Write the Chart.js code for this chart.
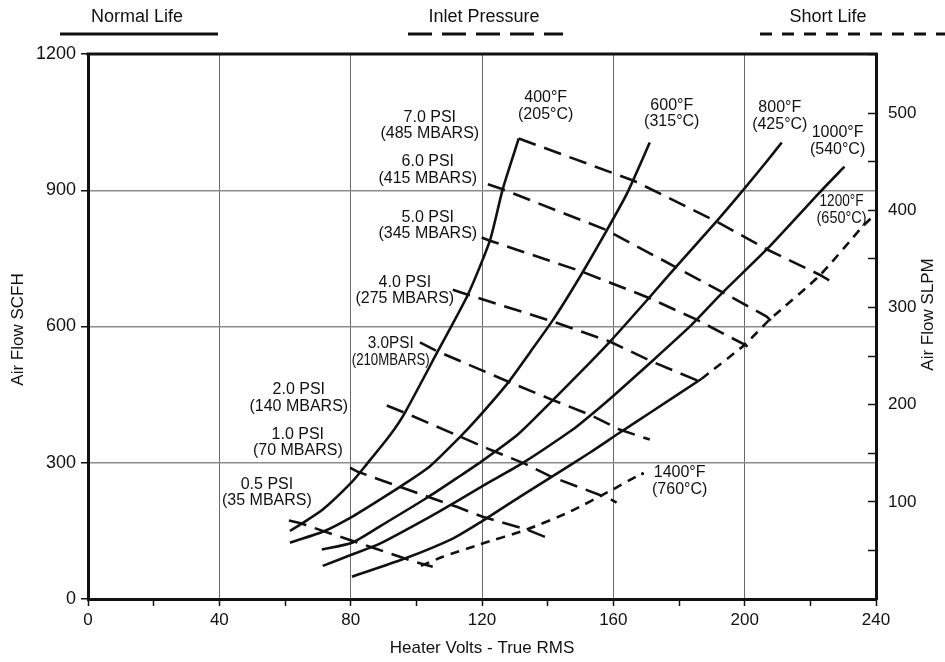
<!DOCTYPE html>
<html>
<head>
<meta charset="utf-8">
<title>Air Flow vs Heater Volts</title>
<script src="https://cdn.jsdelivr.net/npm/chart.js@4.4.1/dist/chart.umd.min.js"></script>
<style>
  html, body { margin: 0; padding: 0; background: #fff; }
  #wrap { width: 945px; height: 662px; position: relative; }
</style>
</head>
<body>
<div id="wrap"><canvas id="airflow"></canvas></div>
<script>
// temperature curves, [heater volts, air flow SCFH]
var f400 = [[61.5,150],[65.1,166],[71.5,197],[80.4,258],[84.9,297],[91.9,360],[96.5,410],[106.5,545],[115.7,670],[122.4,789],[126.3,902],[131.2,1014]];
var f600 = [[61.5,124],[71.5,148],[80.4,181],[88.9,219],[95,247],[104.1,292],[113.2,356],[118.4,396],[127.9,476],[134.6,543],[141.6,614],[146.7,672],[150.7,720],[157.7,808],[164.1,892],[171.1,1005]];
var f800 = [[71.2,109],[80.4,124],[88.9,160],[103.5,224],[112.3,266],[119.9,303],[130.9,362],[141.2,435],[152.8,520],[158.9,566],[170.5,660],[179.3,733],[191.5,832],[199.4,899],[207,966],[211.3,1005]];
var f1000 = [[71.5,73],[80.4,98],[88.9,122],[104.1,181],[113.2,219],[120.9,252],[132.1,298],[148.2,376],[152.8,403],[159.8,446],[171.7,523],[183.9,604],[193.3,675],[207,772],[222.8,895],[230.4,952]];
var f1200 = [[80.4,49],[96.5,89],[111.1,133],[119.3,168],[131.5,225],[141.2,269],[152.8,322],[161.9,366],[172,414],[186.9,485]];
var f1200short = [[186.9,485],[200,560],[207.6,615],[222.8,712],[235.9,820],[238.7,840]];
var f1400short = [[101.4,73],[108.1,93],[119.3,120],[133.6,153],[146.7,192],[159.8,241],[168,274]];

// inlet pressure lines, [heater volts, air flow SCFH]
var psi70 = [[131.2,1014],[166.2,921],[191.5,831],[207,769],[222.8,714],[226.8,697]];
var psi60 = [[121.8,913],[126.3,902],[157.7,813],[178.7,732],[193.3,675],[206.7,622],[208.2,611]];
var psi50 = [[119.9,796],[122.4,789],[150.4,721],[170.5,664],[185.4,615],[200,560],[201.2,554]];
var psi40 = [[111.1,681],[115.7,670],[141.6,611],[158.9,567],[171.7,523],[186.3,479]];
var psi30 = [[101.1,565],[106.5,545],[127.9,479],[141.2,439],[152.8,406],[161.9,373],[171.1,351]];
var psi20 = [[91,426],[96.5,410],[113.2,358],[122.4,329],[133,298],[141.2,269],[158.9,221],[161,212]];
var psi10 = [[79.8,289],[82.2,280],[95,247],[103.5,225],[112.3,203],[120.2,181],[133.6,153],[141.2,131]];
var psi05 = [[61.2,173],[65.1,166],[71.5,150],[81.3,126],[86.8,113],[96.5,89],[101.4,78],[105,71]];

// axes
var voltTicks = [0, 40, 80, 120, 160, 200, 240];
var scfhTicks = [0, 300, 600, 900, 1200];
var slpmTicks = [100, 200, 300, 400, 500];
var slpmTop = 561; // SLPM value at 1200 SCFH

var FONT = '"Liberation Sans", Arial, Helvetica, sans-serif';
var INK = '#111';
var LONG = [18, 9];
var SHORT = [9, 7];

function series(label, pts, dash, bend) {
    return {
        label: label,
        data: pts.map(function (p) { return { x: p[0], y: p[1] }; }),
        borderColor: INK,
        borderWidth: 2.6,
        borderDash: dash,
        pointRadius: 0,
        showLine: true,
        fill: false,
        tension: bend
    };
}

// text placed on the plot, anchored in data units
var notes = [
    { text: ['7.0 PSI', '(485 MBARS)'], at: [104.1, 1060] },
    { text: ['6.0 PSI', '(415 MBARS)'], at: [103.5, 963] },
    { text: ['5.0 PSI', '(345 MBARS)'], at: [103.5, 840] },
    { text: ['4.0 PSI', '(275 MBARS)'], at: [96.5, 697] },
    { text: ['3.0PSI', '(210MBARS)'], at: [92.2, 562], w: [46, 78] },
    { text: ['2.0 PSI', '(140 MBARS)'], at: [64.2, 461] },
    { text: ['1.0 PSI', '(70 MBARS)'], at: [63.9, 362] },
    { text: ['0.5 PSI', '(35 MBARS)'], at: [54.5, 252] },
    { text: ['400°F', '(205°C)'], at: [139.4, 1104] },
    { text: ['600°F', '(315°C)'], at: [177.8, 1087] },
    { text: ['800°F', '(425°C)'], at: [210.7, 1081] },
    { text: ['1000°F', '(540°C)'], at: [228.3, 1026] },
    { text: ['1200°F', '(650°C)'], at: [229.5, 875], w: [44, 50] },
    { text: ['1400°F', '(760°C)'], at: [180.2, 278] }
];
var leaderDot = [168.9, 276];

var legendItems = [
    { text: 'Normal Life', cx: 137, from: 60, to: 218, dash: [] },
    { text: 'Inlet Pressure', cx: 484, from: 408, to: 563, dash: [24, 10] },
    { text: 'Short Life', cx: 828, from: 760, to: 945, dash: [12, 10] }
];

var decor = {
    id: 'decor',
    afterDraw: function (chart) {
        var ctx = chart.ctx, a = chart.chartArea;
        var sx = chart.scales.x, sy = chart.scales.y;
        ctx.save();

        // top frame line
        ctx.strokeStyle = INK;
        ctx.lineWidth = 3;
        ctx.beginPath();
        ctx.moveTo(a.left - 1.5, a.top);
        ctx.lineTo(a.right + 1.5, a.top);
        ctx.stroke();

        // notes
        ctx.fillStyle = INK;
        ctx.font = '16px ' + FONT;
        ctx.textAlign = 'center';
        ctx.textBaseline = 'middle';
        notes.forEach(function (n) {
            var px = sx.getPixelForValue(n.at[0]);
            var py = sy.getPixelForValue(n.at[1]);
            n.text.forEach(function (t, i) {
                if (n.w) ctx.fillText(t, px, py + i * 16.5, n.w[i]);
                else ctx.fillText(t, px, py + i * 16.5);
            });
        });
        ctx.beginPath();
        ctx.arc(sx.getPixelForValue(leaderDot[0]), sy.getPixelForValue(leaderDot[1]), 1.6, 0, Math.PI * 2);
        ctx.fill();

        // legend across the top
        ctx.font = '18px ' + FONT;
        legendItems.forEach(function (it) {
            ctx.fillText(it.text, it.cx, 17);
            ctx.setLineDash(it.dash);
            ctx.lineWidth = 3;
            ctx.beginPath();
            ctx.moveTo(it.from, 34);
            ctx.lineTo(it.to, 34);
            ctx.stroke();
        });
        ctx.setLineDash([]);

        // axis titles
        ctx.font = '17px ' + FONT;
        ctx.fillText('Heater Volts - True RMS', (a.left + a.right) / 2, 648);
        ctx.save();
        ctx.translate(18, (a.top + a.bottom) / 2 + 3);
        ctx.rotate(-Math.PI / 2);
        ctx.fillText('Air Flow SCFH', 0, 0);
        ctx.restore();
        ctx.save();
        ctx.translate(928, (a.top + a.bottom) / 2 - 12);
        ctx.rotate(-Math.PI / 2);
        ctx.fillText('Air Flow SLPM', 0, 0);
        ctx.restore();

        ctx.restore();
    }
};

var ctx = document.getElementById('airflow').getContext('2d');
var chart = new Chart(ctx, {
    type: 'scatter',
    data: {
        datasets: [
            series('400°F', f400, [], 0.2),
            series('600°F', f600, [], 0.2),
            series('800°F', f800, [], 0.2),
            series('1000°F', f1000, [], 0.2),
            series('1200°F', f1200, [], 0.2),
            series('1200°F short life', f1200short, SHORT, 0.2),
            series('1400°F short life', f1400short, SHORT, 0.2),
            series('7.0 PSI', psi70, LONG, 0),
            series('6.0 PSI', psi60, LONG, 0),
            series('5.0 PSI', psi50, LONG, 0),
            series('4.0 PSI', psi40, LONG, 0),
            series('3.0 PSI', psi30, LONG, 0),
            series('2.0 PSI', psi20, LONG, 0),
            series('1.0 PSI', psi10, LONG, 0),
            series('0.5 PSI', psi05, LONG, 0)
        ]
    },
    options: {
        responsive: true,
        maintainAspectRatio: false,
        animation: false,
        layout: { padding: { top: 54, left: 0, right: 0, bottom: 0 } },
        plugins: { legend: { display: false }, tooltip: { enabled: false } },
        scales: {
            x: {
                type: 'linear',
                position: 'bottom',
                min: 0, max: 240,
                afterFit: function (s) { s.height = 63; },
                ticks: {
                    stepSize: 20,
                    autoSkip: false,
                    maxRotation: 0,
                    color: INK,
                    padding: 4,
                    font: { family: FONT, size: 17 },
                    callback: function (v) { return voltTicks.indexOf(v) >= 0 ? v : ''; }
                },
                grid: {
                    color: function (c) {
                        var v = c.tick && c.tick.value;
                        return (voltTicks.indexOf(v) > 0 && v < 240) ? '#6a6a6a' : 'rgba(0,0,0,0)';
                    },
                    lineWidth: 1,
                    tickColor: INK,
                    tickLength: 7,
                    tickWidth: 1.5
                },
                border: { color: INK, width: 3 }
            },
            y: {
                type: 'linear',
                position: 'left',
                min: 0, max: 1200,
                afterFit: function (s) { s.width = 88; },
                ticks: {
                    stepSize: 300,
                    color: INK,
                    padding: 5,
                    font: { family: FONT, size: 18 },
                    callback: function (v) { return scfhTicks.indexOf(v) >= 0 ? v : ''; }
                },
                grid: {
                    color: function (c) {
                        var v = c.tick && c.tick.value;
                        return (v > 0 && v < 1200) ? '#8c8c8c' : 'rgba(0,0,0,0)';
                    },
                    lineWidth: 1.5,
                    tickColor: INK,
                    tickLength: 7,
                    tickWidth: 1.5
                },
                border: { color: INK, width: 3 }
            },
            y2: {
                type: 'linear',
                position: 'right',
                min: 0, max: slpmTop,
                afterFit: function (s) { s.width = 69; },
                ticks: {
                    stepSize: 50,
                    color: INK,
                    padding: 20,
                    font: { family: FONT, size: 17 },
                    callback: function (v) { return slpmTicks.indexOf(v) >= 0 ? v : ''; }
                },
                grid: {
                    drawOnChartArea: false,
                    color: INK,
                    tickColor: INK,
                    tickLength: -8,
                    tickWidth: 1.5
                },
                border: { color: INK, width: 3 }
            }
        }
    },
    plugins: [decor]
});
</script>
</body>
</html>
